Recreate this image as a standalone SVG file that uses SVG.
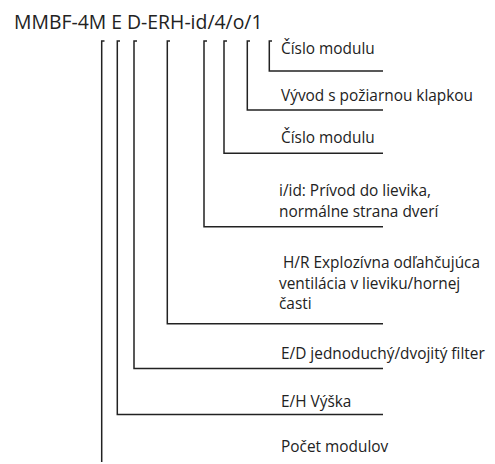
<svg xmlns="http://www.w3.org/2000/svg" width="495" height="464" viewBox="0 0 495 464">
<style>
.t{font-family:"Open Sans","Liberation Sans",sans-serif;font-size:15.4px;fill:#222}
.h{font-family:"Open Sans","Liberation Sans",sans-serif;font-size:19.4px;fill:#222}
.c{fill:none;stroke:#222;stroke-width:1.5}
</style>
<rect width="495" height="464" fill="#fff"/>
<g id="title"><text class="h" x="14" y="29">MMBF-4M E D-ERH-id/4/o/1</text></g>
<g id="connectors">
<path class="c" d="M104.5,41 H101.7 V462"/>
<path class="c" d="M120,41 H117.3 V414.5 H383"/>
<path class="c" d="M137,41 H134 V368.5 H383"/>
<path class="c" d="M170,41 H167.3 V323.8 H383"/>
<path class="c" d="M207,41 H204 V226.7 H383"/>
<path class="c" d="M227,41 H224 V153.2 H383"/>
<path class="c" d="M250,41 H247.3 V110 H383"/>
<path class="c" d="M272,41 H269.3 V71 H383"/>
</g>
<g id="n1"><text class="t" x="281" y="54">Číslo modulu</text></g>
<g id="n2"><text class="t" x="281" y="101">Vývod s požiarnou klapkou</text></g>
<g id="n3"><text class="t" x="281" y="143">Číslo modulu</text></g>
<g id="n4"><text class="t" x="279" y="196">i/id: Prívod do lievika,</text><text class="t" x="279" y="217">normálne strana dverí</text></g>
<g id="n5"><text class="t" x="279" y="268" xml:space="preserve"> H/R Explozívna odľahčujúca</text><text class="t" x="279" y="288.5">ventilácia v lieviku/hornej</text><text class="t" x="279" y="309">časti</text></g>
<g id="n6"><text class="t" x="281" y="359">E/D jednoduchý/dvojitý filter</text></g>
<g id="n7"><text class="t" x="281" y="407">E/H Výška</text></g>
<g id="n8"><text class="t" x="281" y="452">Počet modulov</text></g>
</svg>
